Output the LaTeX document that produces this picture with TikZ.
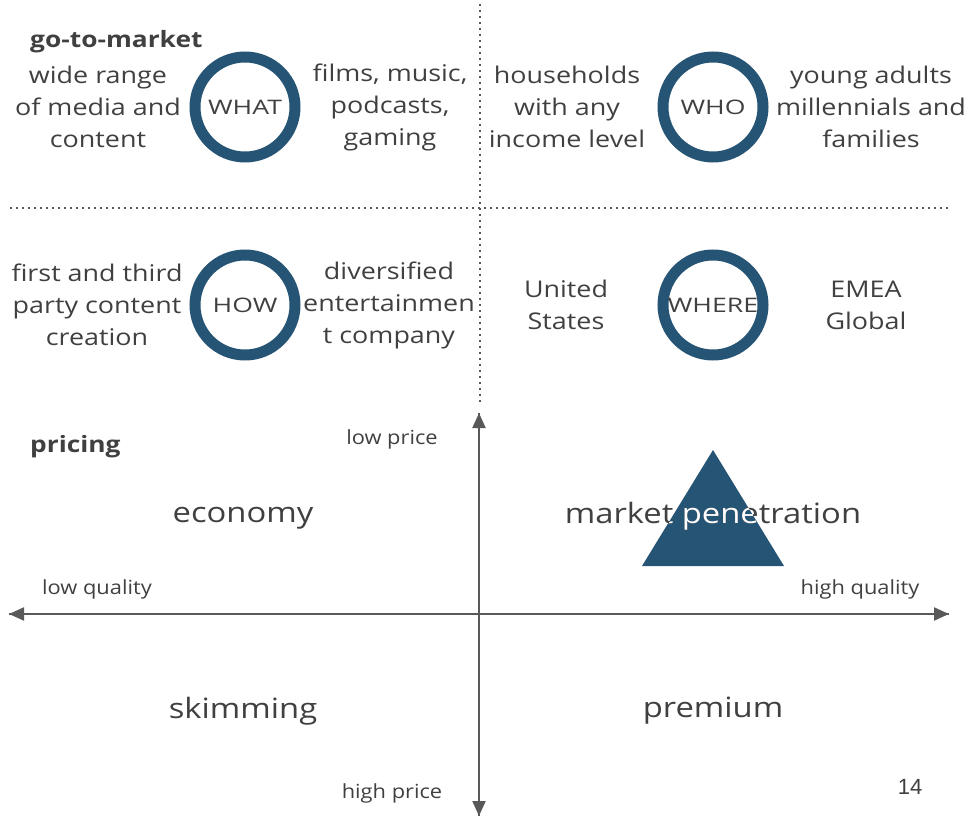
\documentclass[tikz,border=0pt]{standalone}
\usepackage{fontspec}
\setmainfont{Open Sans}[FakeStretch=1.17]
\newfontfamily\ringfont{Open Sans}[FakeStretch=1.33]
\newfontfamily\smallfont{Open Sans}[FakeStretch=1.12]
\newfontfamily\numfont{Liberation Sans}
\usetikzlibrary{arrows.meta}
\definecolor{ink}{HTML}{404040}
\definecolor{axisgrey}{HTML}{595959}
\definecolor{navy}{HTML}{255474}
\begin{document}
\begin{tikzpicture}[x=1pt,y=-1pt,
  txt/.style={text=ink,font=\fontsize{23}{32}\selectfont,align=center,inner sep=0pt},
  head/.style={text=ink,font=\fontsize{22.5}{28}\bfseries\selectfont,anchor=west,inner sep=0pt},
  ring/.style={circle,draw=navy,line width=11pt,minimum size=100pt,inner sep=0pt,text=ink,font=\ringfont\fontsize{20}{24}\selectfont},
  small/.style={text=ink,font=\smallfont\fontsize{19.5}{22}\selectfont,inner sep=0pt},
  quad/.style={text=ink,font=\fontsize{28}{32}\selectfont,inner sep=0pt},
  sep/.style={draw=axisgrey,line width=1.6pt,dash pattern=on 1.6pt off 4.4pt},
  axis/.style={draw=axisgrey,line width=2pt,-{Triangle[length=15pt,width=13pt]}}]
\useasboundingbox (0,0) rectangle (967,818);
% quadrant separators
\coordinate (vtop) at (480,4);
\coordinate (vbot) at (480,405);
\coordinate (hl) at (10,208);
\coordinate (hr) at (950,208);
\draw[sep] (vtop) -- (vbot);
\draw[sep] (hl) -- (hr);
% go-to-market
\node[head] (gtm) at (30,42) {go-to-market};
\node[ring] (what) at (245,107) {WHAT};
\node[txt] (whatl) at (98,107) {wide range\\of media and\\content};
\node[txt] (whatr) at (390,107) {films, music,\\podcasts,\\gaming};
\node[ring] (who) at (713,107) {WHO};
\node[txt] (whol) at (567,107) {households\\with any\\income level};
\node[txt] (whor) at (871,107) {young adults\\millennials and\\families};
\node[ring] (how) at (245,305) {HOW};
\node[txt] (howl) at (97,305) {first and third\\party content\\creation};
\node[txt] (howr) at (389,305) {diversified\\entertainmen\\t company};
\node[ring] (where) at (713,305) {WHERE};
\node[txt] (wherel) at (566,305) {United\\States};
\node[txt] (wherer) at (866,305) {EMEA\\Global};
% pricing
\node[head] (pricing) at (30,447) {pricing};
\coordinate (vt) at (479,413);
\coordinate (vb) at (479,816);
\coordinate (hlft) at (9,614);
\coordinate (hrgt) at (949,614);
\draw[axis] (vb) -- (vt);
\draw[axis] (vt) -- (vb);
\draw[axis] (hrgt) -- (hlft);
\draw[axis] (hlft) -- (hrgt);
\node[small] (lowp) at (392,439) {low price};
\node[small] (highp) at (392,793) {high price};
\node[small] (lowq) at (97,589) {low quality};
\node[small] (highq) at (860,589) {high quality};
\coordinate (ta) at (713,450);
\coordinate (tb) at (784,566);
\coordinate (tc) at (642,566);
\fill[navy] (ta) -- (tb) -- (tc) -- cycle;
\node[quad] (eco) at (243,518) {economy};
\node[quad] (pen) at (713,516) {market penetration};
\begin{scope}
  \clip (ta) -- (tb) -- (tc) -- cycle;
  \node[quad,text=white] at (713,516) {market penetration};
\end{scope}
\node[quad] (skim) at (243,711) {skimming};
\node[quad] (prem) at (713,711) {premium};
\node[text=ink,font=\numfont\fontsize{22}{26}\selectfont,inner sep=0pt] (pg) at (910,787) {14};
\end{tikzpicture}
\end{document}
